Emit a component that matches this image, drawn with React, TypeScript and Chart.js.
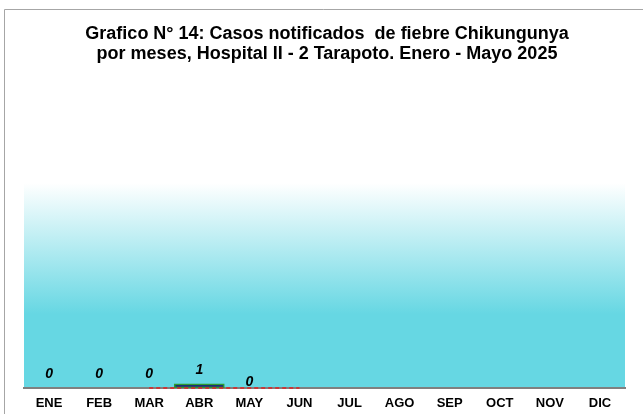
import React, { useEffect, useRef } from "react";
import { Chart, registerables } from "chart.js";
Chart.register(...registerables);

const months = ["ENE", "FEB", "MAR", "ABR", "MAY", "JUN", "JUL", "AGO", "SEP", "OCT", "NOV", "DIC"];
const cases = [0, 0, 0, 1, 0, null, null, null, null, null, null, null];
const trend = [null, null, 0, 0, 0, 0, null, null, null, null, null, null];
const titleLines = [
  "Grafico N° 14: Casos notificados  de fiebre Chikungunya",
  "por meses, Hospital II - 2 Tarapoto. Enero - Mayo 2025",
];
const yMax = 50;

const FONT = "'Liberation Sans', Arial, sans-serif";

const framePlugin = {
  id: "frame",
  beforeDraw(chart: any) {
    const { ctx, chartArea, width, height } = chart;
    ctx.save();
    ctx.fillStyle = "#ffffff";
    ctx.fillRect(0, 0, width, height);
    ctx.strokeStyle = "#a6a6a6";
    ctx.lineWidth = 1;
    ctx.beginPath();
    ctx.moveTo(4.5, height);
    ctx.lineTo(4.5, 9.5);
    ctx.lineTo(width, 9.5);
    ctx.stroke();
    const g = ctx.createLinearGradient(0, chartArea.top, 0, chartArea.bottom);
    g.addColorStop(0, "#ffffff");
    g.addColorStop(0.64, "#66d7e3");
    g.addColorStop(1, "#66d7e3");
    ctx.fillStyle = g;
    ctx.fillRect(chartArea.left, chartArea.top, chartArea.right - chartArea.left, chartArea.bottom - chartArea.top);
    ctx.restore();
  },
};

const labelPlugin = {
  id: "barLabels",
  afterDatasetsDraw(chart: any) {
    const { ctx } = chart;
    const meta = chart.getDatasetMeta(0);
    const data = chart.data.datasets[0].data;
    let last = -1;
    data.forEach((v: any, i: number) => { if (v !== null) last = i; });
    ctx.save();
    ctx.font = `italic bold 14px ${FONT}`;
    ctx.fillStyle = "#000000";
    ctx.textAlign = "center";
    ctx.textBaseline = "middle";
    meta.data.forEach((el: any, i: number) => {
      const v = data[i];
      if (v === null || v === undefined) return;
      const lift = i === last ? 6 : 14;
      ctx.fillText(String(v), el.x, el.y - lift);
    });
    ctx.restore();
  },
};

export default function App() {
  const ref = useRef<HTMLCanvasElement>(null);
  useEffect(() => {
    if (!ref.current) return;
    const chart = new Chart(ref.current, {
      type: "bar",
      data: {
        labels: months,
        datasets: [
          {
            type: "bar",
            label: "Casos",
            data: cases,
            backgroundColor: "#1c2f78",
            borderColor: "#2e9a2e",
            borderWidth: 1.5,
            borderSkipped: false,
            categoryPercentage: 1,
            barPercentage: 1,
            order: 1,
          },
          {
            type: "line",
            label: "Tendencia",
            data: trend,
            borderColor: "#e02020",
            borderWidth: 1.5,
            borderDash: [4, 3],
            pointRadius: 0,
            fill: false,
            clip: false,
            order: 0,
          },
        ],
      } as any,
      options: {
        responsive: false,
        animation: false,
        devicePixelRatio: 1,
        layout: { padding: { top: 14, left: 11, right: 0, bottom: 0.5 } },
        plugins: {
          legend: { display: false },
          tooltip: { enabled: false },
          title: {
            display: true,
            text: titleLines,
            color: "#000000",
            font: { family: FONT, size: 18, weight: "bold", lineHeight: 1.12 },
            padding: { top: 10, bottom: 118.7 },
          },
        },
        scales: {
          x: {
            grid: { display: false, drawTicks: false },
            border: { display: true, color: "#808080", width: 2 },
            ticks: { color: "#000000", font: { family: FONT, size: 13, weight: "bold" }, padding: 8 },
          },
          y: {
            position: "left",
            min: 0,
            max: yMax,
            ticks: { display: false },
            grid: { display: false, drawTicks: false },
            border: { display: false },
            afterFit: (s: any) => { s.width = 13; },
          },
          y2: {
            position: "right",
            min: 0,
            max: yMax,
            ticks: { display: false },
            grid: { display: false, drawTicks: false },
            border: { display: false },
            afterFit: (s: any) => { s.width = 18; },
          },
        },
      } as any,
      plugins: [framePlugin, labelPlugin],
    });
    return () => chart.destroy();
  }, []);
  return (
    <div style={{ position: "fixed", left: 0, top: 0, width: 643, height: 420 }}>
      <canvas ref={ref} width={643} height={420} style={{ display: "block" }} />
    </div>
  );
}
